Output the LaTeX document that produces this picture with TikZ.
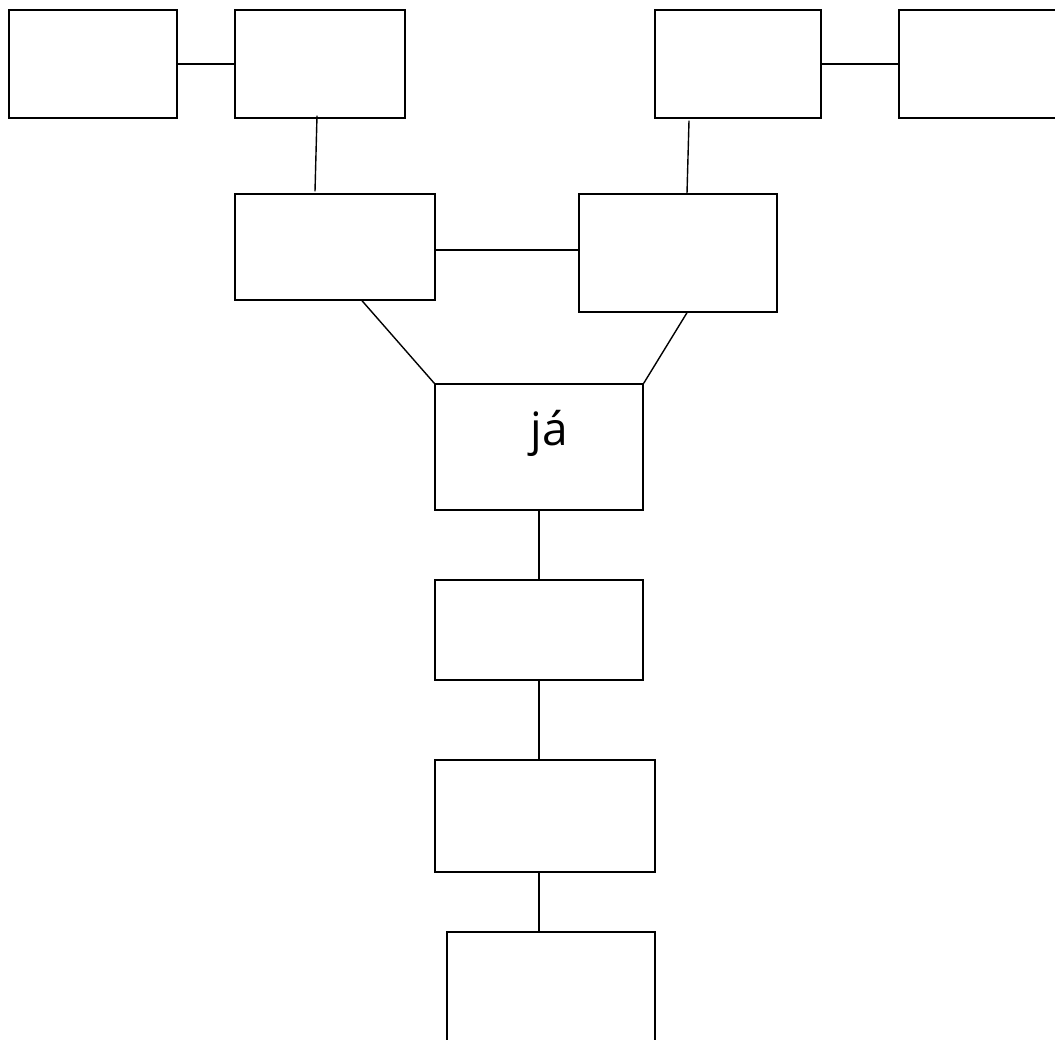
\documentclass[tikz,border=0pt]{standalone}
\usepackage{fontspec}
\setmainfont{Open Sans}
\begin{document}
\begin{tikzpicture}[x=1pt,y=-1pt,line width=1.4pt,
  blk/.style={draw,rectangle,inner sep=0pt}]
\useasboundingbox (0,0) rectangle (1055,1040);
\clip (0,0) rectangle (1055,1040);
% top row
\node[blk,minimum width=168pt,minimum height=108pt] (tl) at (93,64) {};
\node[blk,minimum width=170pt,minimum height=108pt] (tml) at (320,64) {};
\node[blk,minimum width=166pt,minimum height=108pt] (tmr) at (738,64) {};
\node[blk,minimum width=166pt,minimum height=108pt] (tr) at (982,64) {};
% second row
\node[blk,minimum width=200pt,minimum height=106pt] (ml) at (335,247) {};
\node[blk,minimum width=198pt,minimum height=118pt] (mr) at (678,253) {};
% column
\node[blk,minimum width=208pt,minimum height=126pt] (ja) at (539,447) {};
\node[font=\fontsize{46}{50}\selectfont,inner sep=0pt] (jatext) at (549,433) {já};
\node[blk,minimum width=208pt,minimum height=100pt] (c1) at (539,630) {};
\node[blk,minimum width=220pt,minimum height=112pt] (c2) at (545,816) {};
\node[blk,minimum width=208pt,minimum height=120pt] (c3) at (551,992) {};
% connectors
\draw (tl.east) -- (tml.west);
\draw (tmr.east) -- (tr.west);
\draw ([xshift=-3pt,yshift=3pt]tml.south) -- ([xshift=-20pt,yshift=2pt]ml.north);
\draw ([xshift=-49pt,yshift=-2pt]tmr.south) -- ([xshift=9pt]mr.north);
\draw ([yshift=-3pt]ml.east) -- ([yshift=3pt]mr.west);
\draw ([xshift=27pt]ml.south) -- (ja.north west);
\draw ([xshift=9pt]mr.south) -- (ja.north east);
\draw (ja.south) -- (c1.north);
\draw (c1.south) -- (c1.south |- c2.north);
\draw (c1.south |- c2.south) -- (c1.south |- c3.north);
\end{tikzpicture}
\end{document}
